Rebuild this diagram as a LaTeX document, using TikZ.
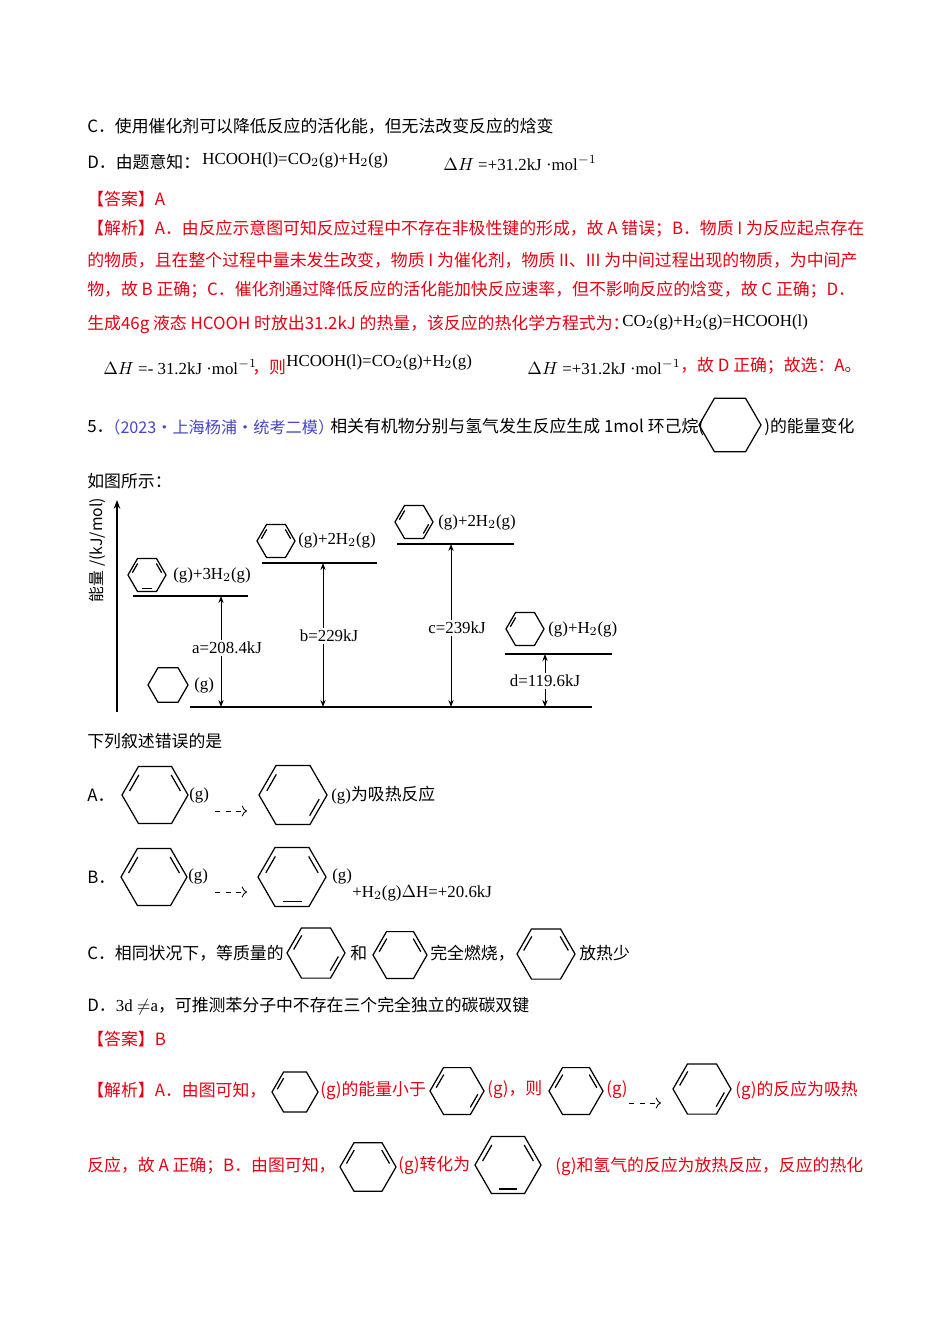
\documentclass[tikz,border=0pt]{standalone}
\usepackage{fontspec}
\setmainfont{Liberation Serif}
\newfontfamily\cjk{Noto Sans CJK SC}
\usetikzlibrary{arrows.meta}
\definecolor{ansred}{RGB}{230,0,18}
\definecolor{srcblue}{RGB}{70,70,200}
\tikzset{
  txt/.style={anchor=west,inner sep=0pt,font=\cjk\fontsize{9.6}{12}\selectfont},
  rtxt/.style={txt,text=ansred},
  lat/.style={anchor=west,inner sep=0pt,font=\fontsize{9.6}{12}\selectfont},
  small/.style={anchor=west,inner sep=0pt,font=\fontsize{9.6}{12}\selectfont},
  bond/.style={line width=0.7pt,line join=miter},
  level/.style={line width=0.6pt},
  gap/.style={-{Stealth[length=4pt]},line width=0.5pt}
}
% hexagon: centre x, y, radius (px), list of double bonds
\newcommand\hexa[4]{%
  \begin{scope}[shift={(#1,#2)}]
    \pgfmathsetmacro\rr{#3*0.02}
    \draw[bond] (0:\rr cm) -- (60:\rr cm) -- (120:\rr cm) -- (180:\rr cm)
      -- (240:\rr cm) -- (300:\rr cm) -- cycle;
    \foreach \k in {#4}{
      \draw[bond] ({60*\k+9}:{0.78*\rr cm}) -- ({60*\k+51}:{0.78*\rr cm});
    }
  \end{scope}}
\begin{document}
\begin{tikzpicture}[x=0.02cm,y=-0.02cm]
\useasboundingbox[fill=white] (0,0) rectangle (950,1344);

% previous question
\node[txt] (qc) at (87,126) {C．使用催化剂可以降低反应的活化能，但无法改变反应的焓变};
\node[txt] (qd) at (87,162) {D．由题意知：};
\node[lat] (qdf) at (202,160) {HCOOH(l)=CO$_2$(g)+H$_2$(g)};
\node[lat] (qdh) at (443,163) {$\Delta H$ =+31.2kJ ·mol$^{-1}$};
\node[rtxt] (ans1) at (87,199) {【答案】A};
\node[rtxt] (ex1) at (87,229) {【解析】A．由反应示意图可知反应过程中不存在非极性键的形成，故 A 错误；B．物质 I 为反应起点存在};
\node[rtxt] (ex2) at (87,260) {的物质，且在整个过程中量未发生改变，物质 I 为催化剂，物质 II、III 为中间过程出现的物质，为中间产};
\node[rtxt] (ex3) at (87,290) {物，故 B 正确；C．催化剂通过降低反应的活化能加快反应速率，但不影响反应的焓变，故 C 正确；D．};
\node[rtxt] (ex4) at (87,324) {生成46g 液态 HCOOH 时放出31.2kJ 的热量，该反应的热化学方程式为：};
\node[lat] (ex4f) at (622,322) {CO$_2$(g)+H$_2$(g)=HCOOH(l)};
\node[lat] (ex5a) at (103,367) {$\Delta H$ =- 31.2kJ ·mol$^{-1}$};
\node[rtxt] (ex5b) at (252,367) {，则};
\node[lat] (ex5c) at (286,362) {HCOOH(l)=CO$_2$(g)+H$_2$(g)};
\node[lat] (ex5d) at (527,367) {$\Delta H$ =+31.2kJ ·mol$^{-1}$};
\node[rtxt] (ex5e) at (680,366) {，故 D 正确；故选：A。};

% question 5
\node[txt] (q5) at (87,427) {5．};
\node[txt,text=srcblue,font=\cjk\fontsize{9.2}{12}\selectfont] (q5src) at (104,427) {（2023·上海杨浦·统考二模）};
\node[txt] (q5a) at (330,427) {相关有机物分别与氢气发生反应生成 1mol 环己烷(};
\hexa{730}{425}{31}{}
\node[txt] (q5b) at (764,427) {)的能量变化};
\node[txt] (q5c) at (87,481) {如图所示：};

% energy diagram
\coordinate (yaxb) at (117,712);
\coordinate (yaxt) at (117,500);
\draw[-{Stealth[length=5pt]},line width=0.6pt] (yaxb) -- (yaxt);
\node[txt,rotate=90,anchor=center,font=\cjk\fontsize{9}{11}\selectfont] (ylab) at (97,550) {能量 /(kJ/mol)};
\coordinate (base0) at (190,707);
\coordinate (base1) at (592,707);
\draw[level] (base0) -- (base1);
\draw[level] (133,596) -- (248,596);
\draw[level] (262,563) -- (377,563);
\draw[level] (397,544) -- (514,544);
\draw[level] (505,654) -- (612,654);
\hexa{147}{575}{19}{0,2,4}
\node[small] (la) at (173,575) {(g)+3H$_2$(g)};
\hexa{168}{685}{20}{}
\node[small] (l0) at (194,685) {(g)};
\hexa{276}{541}{19}{0,2}
\node[small] (lb) at (298,540) {(g)+2H$_2$(g)};
\hexa{414}{522}{19}{2,5}
\node[small] (lc) at (438,522) {(g)+2H$_2$(g)};
\hexa{525}{629}{19}{2}
\node[small] (ld) at (548,629) {(g)+H$_2$(g)};
\node[small,anchor=center,fill=white,inner sep=1pt] (va) at (227,648) {a=208.4kJ};
\draw[gap] (221,640) -- (221,596);
\draw[gap] (221,656) -- (221,707);
\node[small,anchor=center,fill=white,inner sep=1pt] (vb) at (329,636) {b=229kJ};
\draw[gap] (323,628) -- (323,563);
\draw[gap] (323,644) -- (323,707);
\node[small,anchor=center,fill=white,inner sep=1pt] (vc) at (457,628) {c=239kJ};
\draw[gap] (451,620) -- (451,544);
\draw[gap] (451,636) -- (451,707);
\node[small,anchor=center,fill=white,inner sep=1pt] (vd) at (545,681) {d=119.6kJ};
\draw[gap] (vd) -- (545,654);
\draw[gap] (vd) -- (545,707);

% options
\node[txt] (q5d) at (87,741) {下列叙述错误的是};
\node[txt] (oa) at (87,795) {A．};
\hexa{155}{795}{33}{0,2}
\node[lat] (oa1) at (189,795) {(g)};
\coordinate (aa0) at (215,811);
\coordinate (aa1) at (247,811);
\draw[dashed,-{To[length=3pt]},line width=0.5pt] (aa0) -- (aa1);
\hexa{293}{795}{34}{2,5}
\node[txt] (oa2) at (331,795) {\rmfamily(g)\cjk 为吸热反应};
\node[txt] (ob) at (87,877) {B．};
\hexa{154}{877}{33}{0,2}
\node[lat] (ob1) at (188,876) {(g)};
\coordinate (ba0) at (215,892);
\coordinate (ba1) at (247,892);
\draw[dashed,-{To[length=3pt]},line width=0.5pt] (ba0) -- (ba1);
\hexa{292}{877}{34}{0,2,4}
\node[lat] (ob2) at (332,876) {(g)};
\node[lat] (ob3) at (352,893) {+H$_2$(g)$\Delta$H=+20.6kJ};
\node[txt] (oc) at (87,953) {C．相同状况下，等质量的};
\hexa{316}{953}{29}{2,5}
\node[txt] (oc1) at (350,953) {和};
\hexa{400}{955}{27}{0,2}
\node[txt] (oc2) at (430,953) {完全燃烧，};
\hexa{546}{954}{29}{0,2}
\node[txt] (oc3) at (579,953) {放热少};
\node[txt] (od) at (87,1006) {D．\rmfamily 3d $\neq$a\cjk ，可推测苯分子中不存在三个完全独立的碳碳双键};
\node[rtxt] (ans2) at (87,1039) {【答案】B};

% analysis
\node[rtxt] (ey1) at (87,1090) {【解析】A．由图可知，};
\hexa{295}{1092}{23}{2}
\node[rtxt] (ey1a) at (320,1090) {(g)的能量小于};
\hexa{457}{1091}{27}{2,5}
\node[rtxt] (ey1b) at (487,1090) {(g)，则};
\hexa{576}{1091}{27}{0,2}
\node[rtxt] (ey1c) at (606,1090) {(g)};
\coordinate (ea0) at (629,1103);
\coordinate (ea1) at (661,1103);
\draw[dashed,-{To[length=3pt]},line width=0.5pt] (ea0) -- (ea1);
\hexa{702}{1089}{29}{2,5}
\node[rtxt] (ey1d) at (735,1090) {(g)的反应为吸热};
\node[rtxt] (ey2) at (87,1166) {反应，故 A 正确；B．由图可知，};
\hexa{368}{1167}{28}{0,2}
\node[rtxt] (ey2a) at (398,1166) {(g)转化为};
\hexa{508}{1165}{33}{0,2,4}
\node[rtxt] (ey2b) at (555,1166) {(g)和氢气的反应为放热反应，反应的热化};
\end{tikzpicture}
\end{document}
